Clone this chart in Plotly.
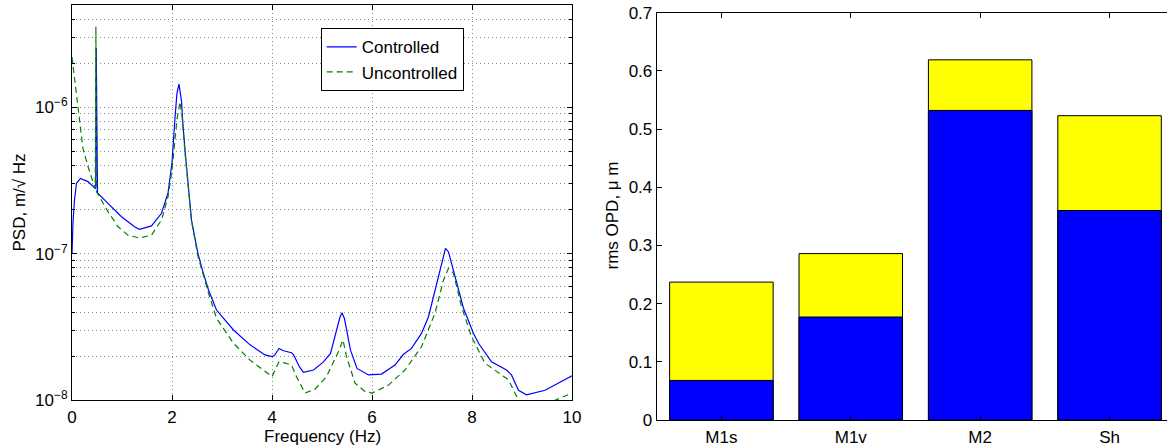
import plotly.graph_objects as go

# ---------------- data ----------------
freq_controlled = [0.00, 0.02, 0.05, 0.09, 0.17, 0.32, 0.45, 0.475, 0.485, 0.495, 0.51, 0.72, 0.99,
                   1.25, 1.35, 1.59, 1.79, 1.92, 2.00, 2.06, 2.10, 2.14, 2.19, 2.22, 2.26, 2.39,
                   2.52, 2.62, 2.73, 2.89, 3.23, 3.56, 3.86, 4.00, 4.05, 4.14, 4.23, 4.39, 4.43,
                   4.55, 4.63, 4.83, 5.03, 5.17, 5.30, 5.36, 5.40, 5.45, 5.57, 5.70, 5.93, 6.19,
                   6.46, 6.63, 6.79, 6.99, 7.13, 7.29, 7.43, 7.47, 7.53, 7.66, 7.83, 8.03, 8.13,
                   8.39, 8.69, 8.79, 8.93, 9.09, 9.46, 10.0]
psd_controlled = [1.00e-7, 1.65e-7, 2.33e-7, 3.03e-7, 3.27e-7, 3.11e-7, 2.82e-7, 2.78e-7, 2.55e-6,
                  2.63e-7, 2.60e-7, 2.21e-7, 1.79e-7, 1.53e-7, 1.47e-7, 1.55e-7, 1.89e-7, 2.59e-7,
                  4.2e-7, 8.5e-7, 1.25e-6, 1.44e-6, 1.1e-6, 7.5e-7, 5.1e-7, 1.70e-7, 1.0e-7, 7.5e-8,
                  5.66e-8, 4.13e-8, 3.02e-8, 2.39e-8, 2.04e-8, 1.99e-8, 2.03e-8, 2.26e-8, 2.18e-8,
                  2.11e-8, 2.05e-8, 1.69e-8, 1.55e-8, 1.61e-8, 1.83e-8, 2.09e-8, 3.02e-8, 3.7e-8,
                  3.96e-8, 3.6e-8, 2.20e-8, 1.65e-8, 1.49e-8, 1.51e-8, 1.74e-8, 2.06e-8, 2.26e-8,
                  2.86e-8, 3.72e-8, 6.3e-8, 1.0e-7, 1.09e-7, 1.03e-7, 7.0e-8, 4.25e-8, 2.86e-8,
                  2.45e-8, 1.83e-8, 1.61e-8, 1.49e-8, 1.17e-8, 1.09e-8, 1.17e-8, 1.47e-8]

freq_uncontrolled = [0.00, 0.06, 0.13, 0.22, 0.32, 0.42, 0.465, 0.478, 0.49, 0.72, 0.92, 1.12, 1.35,
                     1.59, 1.79, 1.92, 2.00, 2.05, 2.10, 2.16, 2.20, 2.26, 2.39, 2.52, 2.62, 2.73,
                     2.89, 3.23, 3.56, 3.89, 4.00, 4.14, 4.25, 4.39, 4.49, 4.66, 4.86, 5.09, 5.33,
                     5.42, 5.49, 5.66, 5.86, 6.00, 6.33, 6.66, 6.99, 7.26, 7.43, 7.53, 7.63, 7.79,
                     7.99, 8.26, 8.53, 8.73, 8.93, 9.10, 9.40, 9.66, 10.0]
psd_uncontrolled = [2.2e-6, 1.46e-6, 9.6e-7, 5.2e-7, 3.94e-7, 3.03e-7, 2.78e-7, 3.55e-6, 2.65e-7,
                    1.94e-7, 1.53e-7, 1.34e-7, 1.28e-7, 1.34e-7, 1.70e-7, 2.45e-7, 3.73e-7, 5.6e-7,
                    8.3e-7, 1.09e-6, 8.8e-7, 4.9e-7, 1.68e-7, 9.6e-8, 7.2e-8, 5.4e-8, 3.63e-8,
                    2.45e-8, 1.88e-8, 1.54e-8, 1.45e-8, 1.83e-8, 1.80e-8, 1.74e-8, 1.45e-8, 1.12e-8,
                    1.19e-8, 1.45e-8, 2.15e-8, 2.58e-8, 1.99e-8, 1.31e-8, 1.15e-8, 1.12e-8, 1.27e-8,
                    1.61e-8, 2.32e-8, 3.93e-8, 6.62e-8, 7.96e-8, 7.36e-8, 4.36e-8, 2.72e-8, 1.79e-8,
                    1.53e-8, 1.38e-8, 1.0e-8, 8.7e-9, 9.0e-9, 1.0e-8, 1.12e-8]

bar_categories = ["M1s", "M1v", "M2", "Sh"]
opd_uncontrolled = [0.237, 0.286, 0.619, 0.523]
opd_controlled = [0.068, 0.177, 0.532, 0.360]

x_ticks_psd = [0, 2, 4, 6, 8, 10]
y_ticks_psd = [1e-8, 1e-7, 1e-6]
y_ticks_psd_text = ["10<sup>\u22128</sup>", "10<sup>\u22127</sup>", "10<sup>\u22126</sup>"]
y_ticks_bar = [0, 0.1, 0.2, 0.3, 0.4, 0.5, 0.6, 0.7]

# ---------------- figure ----------------
W, H = 1167, 446
FONT = "Liberation Sans, Arial, Helvetica, sans-serif"
FS = 17
GRID = dict(showgrid=True, gridcolor="#8a8a8a", griddash="1px,3px", gridwidth=1)

fig = go.Figure()

fig.add_trace(go.Scatter(x=freq_controlled, y=psd_controlled, mode="lines", name="Controlled",
                         line=dict(color="#0000ff", width=1.2), xaxis="x", yaxis="y"))
fig.add_trace(go.Scatter(x=freq_uncontrolled, y=psd_uncontrolled, mode="lines", name="Uncontrolled",
                         line=dict(color="#008000", width=1.2, dash="6px,4px"), xaxis="x", yaxis="y"))

fig.add_trace(go.Bar(x=bar_categories, y=opd_uncontrolled, width=0.8, showlegend=False,
                     marker=dict(color="#ffff00", line=dict(color="#000000", width=1)),
                     xaxis="x2", yaxis="y2"))
fig.add_trace(go.Bar(x=bar_categories, y=opd_controlled, width=0.8, showlegend=False,
                     marker=dict(color="#0000ff", line=dict(color="#000000", width=1)),
                     xaxis="x2", yaxis="y2"))

# minor log subdivisions (2..9 x decade) for minor ticks and grid
minor_vals = [k * 10.0 ** e for e in (-8, -7, -6) for k in range(2, 10) if k * 10.0 ** e <= 5.0e-6]

def px_x(p):
    return p / W

def px_y(p):
    return (H - p) / H

axis_common = dict(showline=True, linecolor="black", linewidth=1,
                   ticks="inside", ticklen=5, tickcolor="black", zeroline=False,
                   automargin=False,
                   tickfont=dict(family=FONT, size=FS, color="black"))

fig.update_layout(
    width=W, height=H, margin=dict(l=0, r=0, t=0, b=0, autoexpand=False),
    paper_bgcolor="white", plot_bgcolor="white",
    barmode="overlay", bargap=0.2,
    font=dict(family=FONT, size=FS, color="black"),
    xaxis=dict(domain=[px_x(72), px_x(572)], range=[0, 10], tickvals=x_ticks_psd,
               anchor="y", mirror="allticks", ticklabelstandoff=1, **GRID, **axis_common),
    yaxis=dict(domain=[px_y(400.3), px_y(5.3)], type="log", range=[-8, -5.304],
               tickvals=y_ticks_psd, ticktext=y_ticks_psd_text,
               minor=dict(tickvals=minor_vals, ticks="inside", ticklen=3, tickcolor="black",
                          showgrid=True, gridcolor="#8a8a8a", griddash="1px,3px", gridwidth=1),
               anchor="x", mirror="allticks", **GRID, **axis_common),
    xaxis2=dict(domain=[px_x(656.7), 1.0], range=[-0.5, 3.444], type="category",
                showgrid=False, anchor="y2", mirror="allticks", ticklabelstandoff=2,
                **axis_common),
    yaxis2=dict(domain=[px_y(420), px_y(12.7)], range=[0, 0.7], tickvals=y_ticks_bar,
                ticktext=["0", "0.1", "0.2", "0.3", "0.4", "0.5", "0.6", "0.7"],
                showgrid=False, anchor="x2", mirror=False, **axis_common),
    legend=dict(x=px_x(320.7), y=px_y(28.3), xanchor="left", yanchor="top",
                bgcolor="white", bordercolor="black", borderwidth=1,
                font=dict(family=FONT, size=FS, color="black"),
                tracegroupgap=0, itemwidth=30),
    annotations=[
        dict(text="Frequency (Hz)", x=px_x(322), y=px_y(436), xref="paper", yref="paper",
             xanchor="center", yanchor="middle",
             showarrow=False, font=dict(family=FONT, size=FS, color="black")),
        dict(text="PSD, m/\u221a Hz", x=px_x(18.5), y=px_y(203), xref="paper", yref="paper",
             xanchor="center", yanchor="middle",
             showarrow=False, textangle=-90, font=dict(family=FONT, size=FS, color="black")),
        dict(text="rms OPD, \u03bc m", x=px_x(612.5), y=px_y(216), xref="paper", yref="paper",
             xanchor="center", yanchor="middle",
             showarrow=False, textangle=-90, font=dict(family=FONT, size=FS, color="black")),
    ],
)

fig.write_html("out.html", config={"displayModeBar": False},
               post_script="document.body.style.margin='0';document.body.style.overflow='hidden';")
